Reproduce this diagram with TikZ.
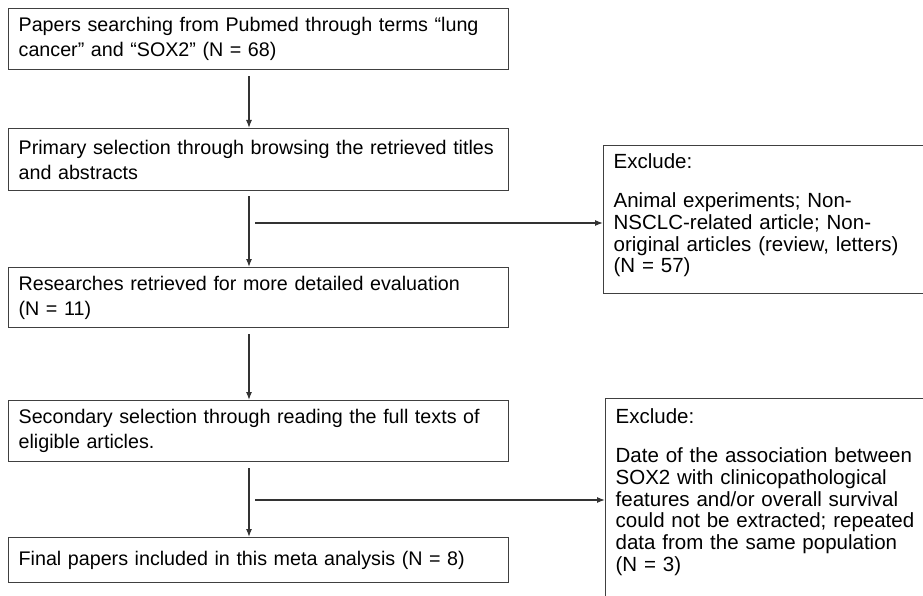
\documentclass[tikz,border=0pt]{standalone}
\usepackage{fontspec}
\setmainfont{Liberation Sans}
\usetikzlibrary{positioning, calc, arrows.meta}

\begin{document}
\begin{tikzpicture}[x=1pt, y=-1pt, >={Latex[length=8pt, width=6pt]}, font=\fontsize{19.7}{25}\selectfont,
    stage/.style={draw=black!75, line width=1.3pt, anchor=north west, align=left, text width=480pt, inner xsep=10pt, minimum height=61pt},
    skipbox/.style={draw=black!75, line width=1.3pt, anchor=north west, align=left, text width=330pt, inner xsep=10pt, inner ysep=0pt, font=\fontsize{20.5}{21.7}\selectfont},
    link/.style={->, line width=1.2pt, black!80}]
    \useasboundingbox (0,0) rectangle (923,596);
    \clip (0,0) rectangle (923,596);

    \node[stage] (search) at (8,8) {Papers searching from Pubmed through terms “lung\\cancer” and “SOX2” (N = 68)};
    \node[stage, below=57.7pt of search.south west, anchor=north west, minimum height=62pt] (primary) {Primary selection through browsing the retrieved titles\\and abstracts};
    \node[stage, below=75.7pt of primary.south west, anchor=north west, minimum height=60pt] (retrieved) {Researches retrieved for more detailed evaluation\\(N = 11)};
    \node[stage, below=71.7pt of retrieved.south west, anchor=north west] (secondary) {Secondary selection through reading the full texts of\\eligible articles.};
    \node[stage, below=74.7pt of secondary.south west, anchor=north west, minimum height=45pt] (final) {Final papers included in this meta analysis (N = 8)};

    \node[skipbox, text height=23pt, text depth=125pt] (skip1) at (603,145) {Exclude:\\[17.3pt]Animal experiments; Non-\\NSCLC-related article; Non-\\original articles (review, letters)\\(N = 57)};
    \node[skipbox, text height=25pt, text depth=200pt] (skip2) at (605,398) {Exclude:\\[17.3pt]Date of the association between\\SOX2 with clinicopathological\\features and/or overall survival\\could not be extracted; repeated\\data from the same population\\(N = 3)};

    \coordinate (spine) at (249,0);
    \draw[link] ($(spine |- search.south)+(0,6)$) -- (spine |- primary.north);
    \draw[link] ($(spine |- primary.south)+(0,5)$) -- (spine |- retrieved.north);
    \draw[link] ($(spine |- retrieved.south)+(0,6)$) -- (spine |- secondary.north);
    \draw[link] ($(spine |- secondary.south)+(0,6)$) -- (spine |- final.north);

    \coordinate (fork1) at (255,223);
    \coordinate (fork2) at (255,500);
    \draw[link] (fork1) -- (fork1 -| skip1.west);
    \draw[link] (fork2) -- (fork2 -| skip2.west);
\end{tikzpicture}
\end{document}
